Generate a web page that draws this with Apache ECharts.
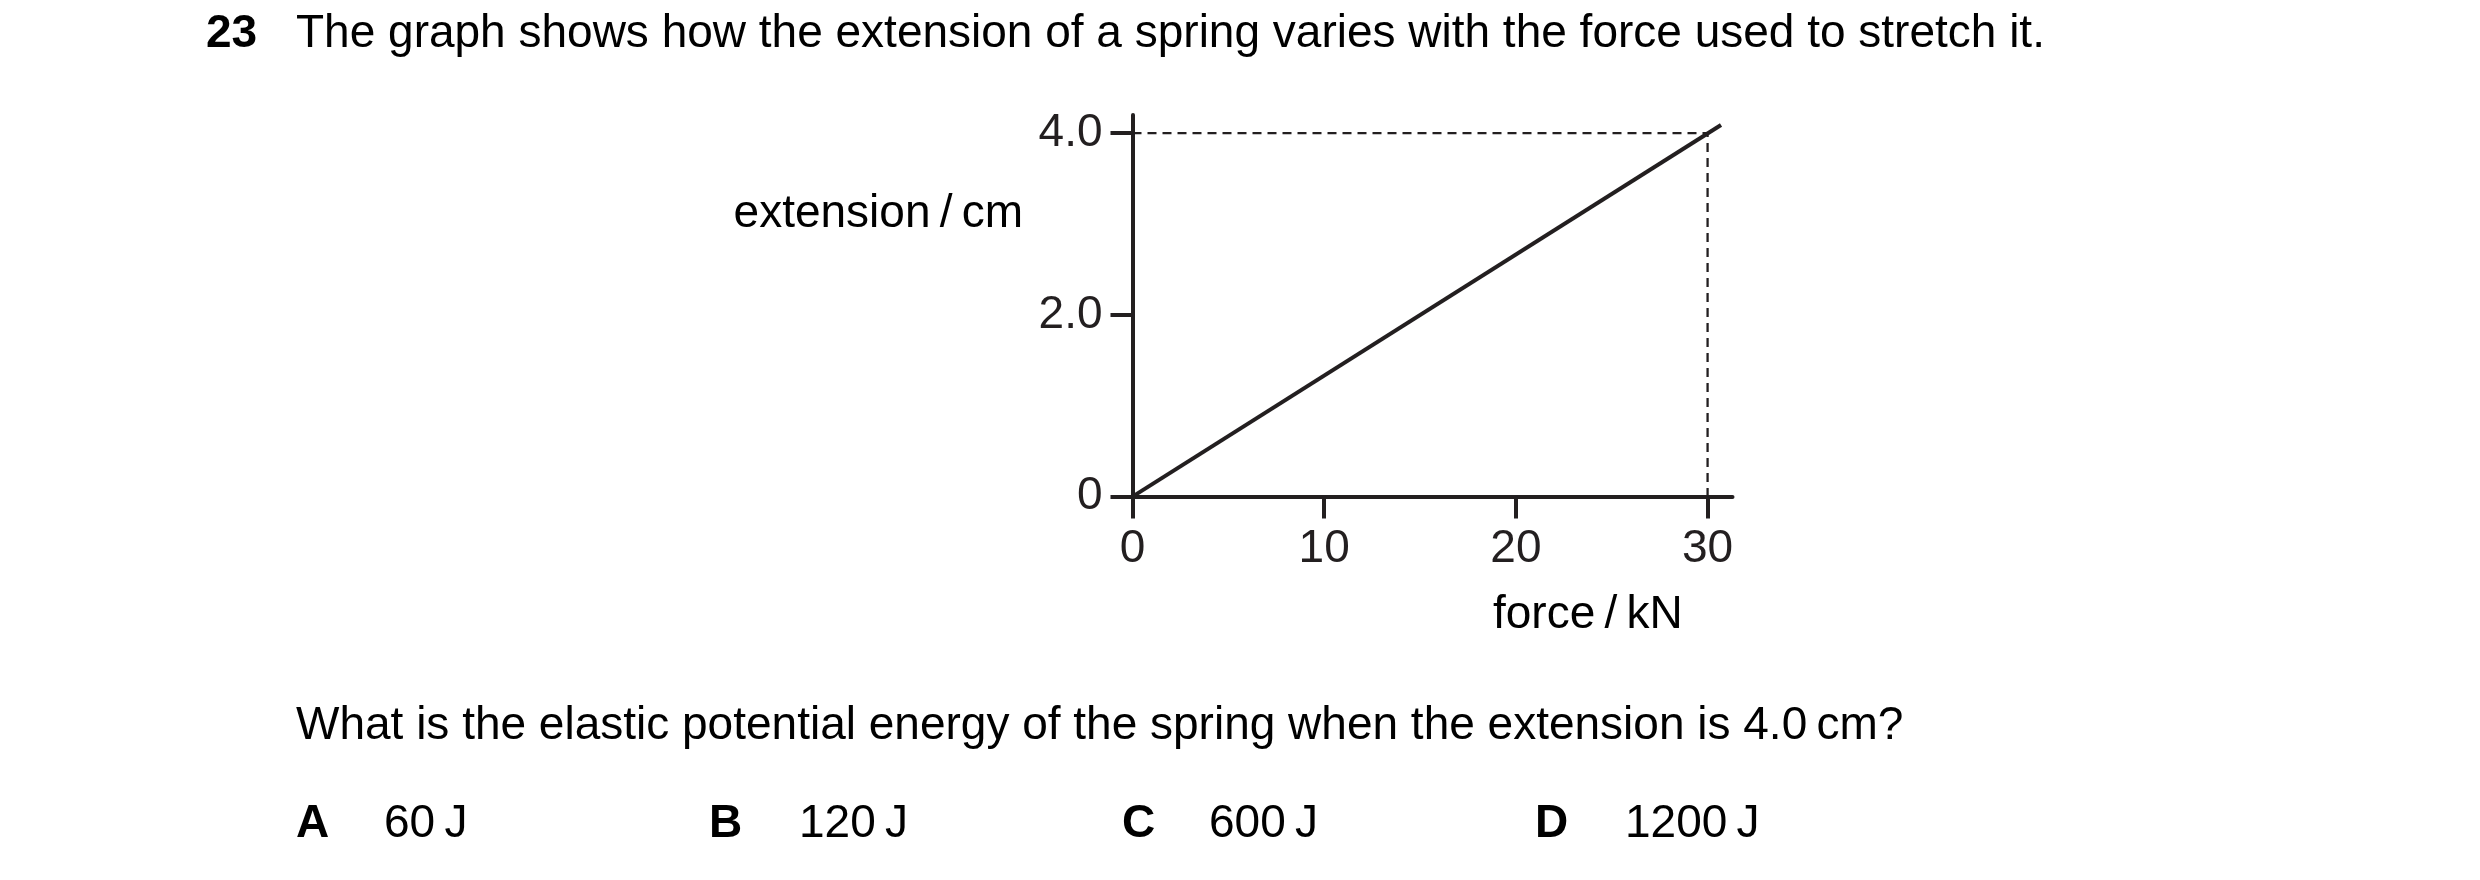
<!DOCTYPE html>
<html>
<head>
<meta charset="utf-8">
<title>spring extension</title>
<script src="https://cdn.jsdelivr.net/npm/echarts@6/dist/echarts.min.js"></script>
<style>
  html, body { margin: 0; padding: 0; background: #fff; }
  #main { width: 2480px; height: 880px; }
</style>
</head>
<body>
<div id="main"></div>
<script>
// graph data
var forceKN = [0, 30.7];
var extensionCm = [0, 4.09];
// dashed guide from 4.0 cm across to 30 kN and down
var guideForce = [0, 30, 30];
var guideExtension = [4.0, 4.0, 0];
// axis ticks
var xTicks = [0, 10, 20, 30];
var yTicks = [0, 2, 4];
var yTickLabels = ['0', '2.0', '4.0'];
// question text
var questionNo = '23';
var questionHead = 'The graph shows how the extension of a spring varies with the force used to stretch it.';
var questionAsk = 'What is the elastic potential energy of the spring when the extension is 4.0\u2009cm?';
var answerKeys = ['A', 'B', 'C', 'D'];
var answerValues = ['60\u2009J', '120\u2009J', '600\u2009J', '1200\u2009J'];

var INK = '#231f20';
var FONT = '"Liberation Sans", Arial, sans-serif';

var myChart = echarts.init(document.getElementById('main'));

function toPairs(xs, ys) {
    var out = [];
    for (var i = 0; i < xs.length; i++) {
        out.push([xs[i], ys[i]]);
    }
    return out;
}

function txt(x, y, text, bold, align) {
    return {
        type: 'text',
        x: x,
        y: y,
        style: {
            text: text,
            fill: '#000',
            font: (bold ? 'bold ' : '') + '46px ' + FONT,
            align: align || 'left',
            verticalAlign: 'middle'
        }
    };
}

function buildGraphics() {
    var g = [];
    g.push(txt(206, 34, questionNo, true));
    g.push(txt(296, 34, questionHead, false));
    g.push(txt(1023, 214, 'extension\u2009/\u2009cm', false, 'right'));
    g.push(txt(1493, 615, 'force\u2009/\u2009kN', false));
    g.push(txt(296, 726, questionAsk, false));
    var keyX = [296, 709, 1122, 1535];
    var valX = [384, 799, 1209, 1625];
    for (var i = 0; i < answerKeys.length; i++) {
        g.push(txt(keyX[i], 824, answerKeys[i], true));
        g.push(txt(valX[i], 824, answerValues[i], false));
    }
    return g;
}

var axisLine = { show: true, onZero: false, lineStyle: { color: INK, width: 4 } };
var axisTick = { show: true, length: 22, lineStyle: { color: INK, width: 4 } };

var option = {
    animation: false,
    backgroundColor: '#fff',
    textStyle: { fontFamily: FONT },
    grid: { left: 1132.5, top: 115, width: 600, height: 381.6, containLabel: false },
    xAxis: {
        type: 'value',
        min: 0,
        max: 31.3,
        axisLine: axisLine,
        axisTick: Object.assign({ customValues: xTicks }, axisTick),
        axisLabel: {
            customValues: xTicks,
            margin: 30,
            color: INK,
            fontSize: 46,
            fontFamily: FONT
        },
        splitLine: { show: false }
    },
    yAxis: {
        type: 'value',
        min: 0,
        max: 4.2,
        axisLine: axisLine,
        axisTick: Object.assign({ customValues: yTicks }, axisTick),
        axisLabel: {
            customValues: yTicks,
            margin: 30,
            color: INK,
            fontSize: 46,
            fontFamily: FONT,
            formatter: function (v) {
                var idx = yTicks.indexOf(v);
                return idx >= 0 ? yTickLabels[idx] : '';
            }
        },
        splitLine: { show: false }
    },
    series: [
        {
            name: 'guide',
            type: 'line',
            data: toPairs(guideForce, guideExtension),
            showSymbol: false,
            symbol: 'none',
            lineStyle: { color: INK, width: 2.3, type: [9, 6] },
            z: 1
        },
        {
            name: 'extension',
            type: 'line',
            data: toPairs(forceKN, extensionCm),
            showSymbol: false,
            symbol: 'none',
            lineStyle: { color: INK, width: 4 },
            z: 2
        }
    ],
    graphic: buildGraphics()
};

myChart.setOption(option);
</script>
</body>
</html>
